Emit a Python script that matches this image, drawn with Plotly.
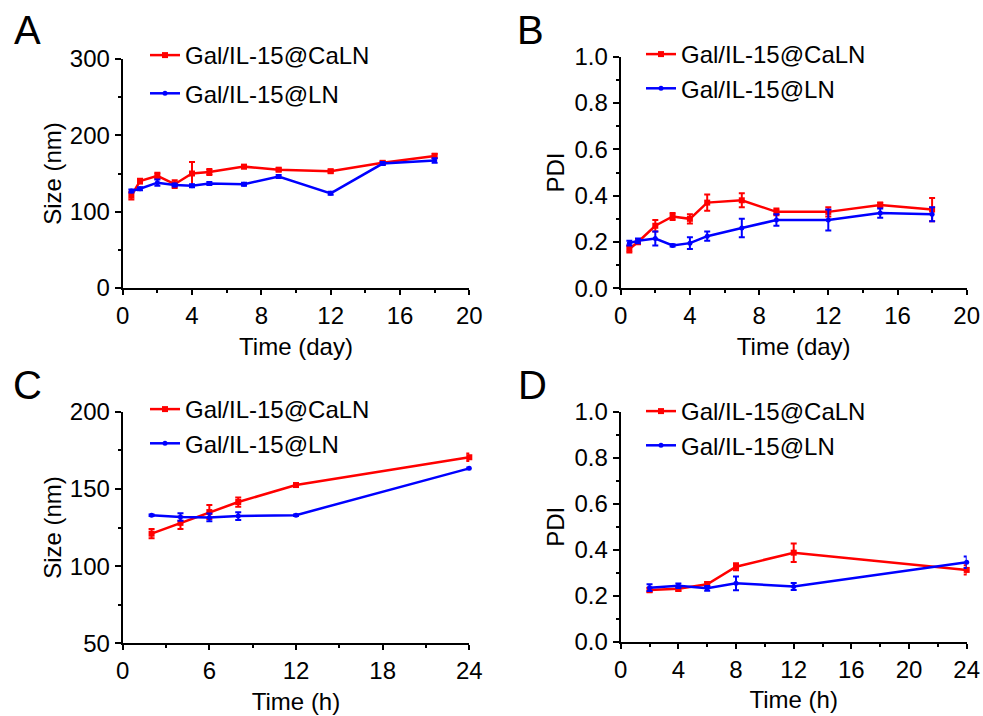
import plotly.graph_objects as go

# Panel A / B: storage over days
days = [0.5, 1, 2, 3, 4, 5, 7, 9, 12, 15, 18]
size_caln_day = [121, 140, 147, 136, 150, 152, 159, 155, 153, 164, 173]
size_caln_day_err = [5, 3, 4, 5, 15, 4, 2, 2, 2, 2, 3]
size_ln_day = [127, 130, 138, 135, 134, 137, 136, 146, 124, 163, 167]
size_ln_day_err = [2, 2, 4, 2, 2, 2, 2, 2, 2, 2, 3]

pdi_caln_day = [0.17, 0.20, 0.27, 0.31, 0.30, 0.37, 0.38, 0.33, 0.33, 0.36, 0.34]
pdi_caln_day_err = [0.015, 0.01, 0.025, 0.015, 0.02, 0.035, 0.03, 0.015, 0.02, 0.01, 0.05]
pdi_ln_day = [0.195, 0.205, 0.215, 0.185, 0.195, 0.225, 0.26, 0.295, 0.295, 0.325, 0.32]
pdi_ln_day_err = [0.01, 0.01, 0.03, 0.005, 0.025, 0.02, 0.04, 0.025, 0.045, 0.02, 0.03]

# Panel C / D: over hours
hours = [2, 4, 6, 8, 12, 24]
size_caln_h = [121, 128, 135, 141.5, 152.5, 170.5]
size_caln_h_err = [3, 4, 4.5, 3, 1, 2.5]
size_ln_h = [133, 131.8, 131.5, 132.4, 133, 163.3]
size_ln_h_err = [0.5, 2.5, 2.5, 2.5, 0.5, 0.5]

pdi_caln_h = [0.225, 0.23, 0.25, 0.326, 0.387, 0.312]
pdi_caln_h_err = [0.01, 0.01, 0.01, 0.015, 0.04, 0.02]
pdi_ln_h = [0.235, 0.243, 0.232, 0.254, 0.24, 0.345]
pdi_ln_h_err = [0.015, 0.01, 0.01, 0.03, 0.015, 0.025]

names = ["Gal/IL-15@CaLN", "Gal/IL-15@LN"]
RED = "#FF0000"
BLUE = "#0000FF"
FONT = "Liberation Sans, Arial, sans-serif"

fig = go.Figure()


def add_pair(x, y1, e1, y2, e2, xa, ya, leg, grouped):
    for y, e, color, sym, ms, name in [
        (y1, e1, RED, "square", 6, names[0]),
        (y2, e2, BLUE, "circle", 5, names[1]),
    ]:
        fig.add_trace(go.Scatter(
            x=x, y=y, name=name, mode="lines+markers",
            line=dict(color=color, width=2.5),
            marker=dict(color=color, symbol=sym, size=ms),
            error_y=dict(type="data", array=e, color=color, thickness=2, width=3),
            xaxis=xa, yaxis=ya, legend=leg,
            legendgroup=(leg + name) if grouped else None,
            cliponaxis=False,
        ))


add_pair(days, size_caln_day, size_caln_day_err, size_ln_day, size_ln_day_err, "x", "y", "legend", True)
add_pair(days, pdi_caln_day, pdi_caln_day_err, pdi_ln_day, pdi_ln_day_err, "x2", "y2", "legend2", False)
add_pair(hours, size_caln_h, size_caln_h_err, size_ln_h, size_ln_h_err, "x3", "y3", "legend3", False)
add_pair(hours, pdi_caln_h, pdi_caln_h_err, pdi_ln_h, pdi_ln_h_err, "x4", "y4", "legend4", False)

W, H = 983, 716


def axis(domain, rng, dtick, minor, title, anchor, standoff, ticklen, fmt=None):
    ax = dict(
        domain=domain, range=rng, dtick=dtick, tick0=rng[0], anchor=anchor,
        automargin=False,
        showline=True, linecolor="black", linewidth=2, mirror=False,
        ticks="outside", ticklen=ticklen, tickwidth=2, tickcolor="black",
        minor=dict(dtick=minor, tick0=rng[0], ticks="outside", ticklen=3,
                   tickwidth=2, tickcolor="black"),
        showgrid=False, zeroline=False,
        tickfont=dict(size=24, color="black", family=FONT),
        title=dict(text=title, font=dict(size=24, color="black", family=FONT),
                   standoff=standoff),
    )
    if fmt:
        ax["tickformat"] = fmt
    return ax


xl = [122.7 / W, 469.3 / W]
xr = [620.7 / W, 966.7 / W]
yt_a = [(H - 288) / H, (H - 59) / H]
yt_b = [(H - 288.3) / H, (H - 56.7) / H]
yb_c = [(H - 643.3) / H, (H - 411.7) / H]
yb_d = [(H - 641.7) / H, (H - 411.7) / H]

legend_style = dict(font=dict(size=24, color="black", family=FONT),
                    bgcolor="rgba(0,0,0,0)", xanchor="left", yanchor="top",
                    itemwidth=30)

fig.update_layout(
    width=W, height=H,
    margin=dict(l=0, r=0, t=0, b=0, autoexpand=False),
    paper_bgcolor="white", plot_bgcolor="white",
    xaxis=axis(xl, [0, 20], 4, 2, "Time (day)", "y", 10, 5),
    yaxis=axis(yt_a, [0, 300], 100, 50, "Size (nm)", "x", 1, 6),
    xaxis2=axis(xr, [0, 20], 4, 2, "Time (day)", "y2", 10, 5),
    yaxis2=axis(yt_b, [0, 1.0], 0.2, 0.1, "PDI", "x2", 3, 6, ".1f"),
    xaxis3=axis(xl, [0, 24], 6, 3, "Time (h)", "y3", 10, 5),
    yaxis3=axis(yb_c, [50, 200], 50, 25, "Size (nm)", "x3", 1, 6),
    xaxis4=axis(xr, [0, 24], 4, 2, "Time (h)", "y4", 10, 5),
    yaxis4=axis(yb_d, [0, 1.0], 0.2, 0.1, "PDI", "x4", 3, 6, ".1f"),
    legend=dict(x=145 / W, y=(H - 33) / H, tracegroupgap=4, **legend_style),
    legend2=dict(x=641 / W, y=(H - 32) / H, **legend_style),
    legend3=dict(x=145 / W, y=(H - 387) / H, **legend_style),
    legend4=dict(x=641 / W, y=(H - 389) / H, **legend_style),
    showlegend=True,
)

for letter, px, py in [("A", 27, 30), ("B", 530, 30), ("C", 27, 385), ("D", 532, 385)]:
    fig.add_annotation(text=letter, x=px / W, y=(H - py) / H, xref="paper", yref="paper",
                       showarrow=False, xanchor="center", yanchor="middle",
                       font=dict(size=40, color="black", family=FONT))

fig.write_html("out.html", config={"displayModeBar": False},
               post_script="document.body.style.margin='0';")
